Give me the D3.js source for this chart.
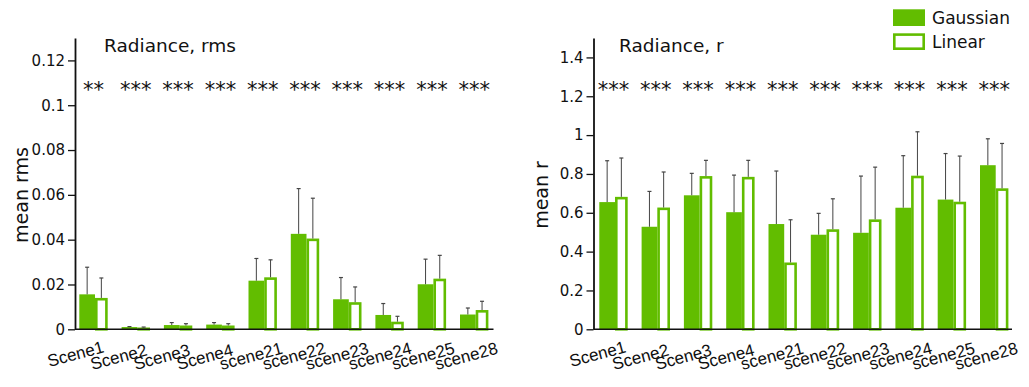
<!DOCTYPE html>
<html><head><meta charset="utf-8">
<script src="https://cdn.jsdelivr.net/npm/d3@7"></script>
<style>
html,body{margin:0;padding:0;background:#fff;}
svg{display:block;font-family:"DejaVu Sans",sans-serif;}
</style></head>
<body>
<svg id="c" width="1029" height="387"></svg>
<script>
// ---- data ----
const scenes = ["Scene1","Scene2","Scene3","Scene4","scene21","scene22","scene23","scene24","scene25","scene28"];
const seriesNames = ["Gaussian","Linear"];

const rmsGaussian     = [0.0156,0.0010,0.0019,0.0021,0.0217,0.0426,0.0134,0.0064,0.0201,0.0066];
const rmsGaussianErr  = [0.0277,0.0012,0.0030,0.0030,0.0316,0.0628,0.0231,0.0115,0.0313,0.0095];
const rmsLinear       = [0.0140,0.0008,0.0017,0.0017,0.0232,0.0405,0.0121,0.0034,0.0226,0.0086];
const rmsLinearErr    = [0.0229,0.0010,0.0025,0.0025,0.0310,0.0585,0.0189,0.0058,0.0330,0.0125];
const rmsSig = ["**","***","***","***","***","***","***","***","***","***"];
const rmsTicks = [0,0.02,0.04,0.06,0.08,0.1,0.12];
const rmsTickLabels = ["0","0.02","0.04","0.06","0.08","0.1","0.12"];

const rGaussian    = [0.655,0.528,0.690,0.603,0.542,0.487,0.497,0.626,0.668,0.845];
const rGaussianErr = [0.868,0.710,0.803,0.794,0.815,0.597,0.789,0.894,0.905,0.981];
const rLinear      = [0.682,0.627,0.789,0.785,0.344,0.515,0.566,0.791,0.657,0.726];
const rLinearErr   = [0.882,0.810,0.870,0.870,0.564,0.672,0.835,1.017,0.892,0.957];
const rSig = ["***","***","***","***","***","***","***","***","***","***"];
const rTicks = [0,0.2,0.4,0.6,0.8,1,1.2,1.4];
const rTickLabels = ["0","0.2","0.4","0.6","0.8","1","1.2","1.4"];

// ---- style ----
const GREEN = "#62bd00";
const INK = "#111";
const svg = d3.select("#c");

function panel(o){
  const g = svg.append("g");
  const y = d3.scaleLinear().domain([0,o.ymax]).range([329.3,38]);
  const x = d3.scaleBand().domain(scenes).range([o.bx0,o.bx0+409.1]).paddingInner(0.3286).paddingOuter(0);
  const bw = x.bandwidth();
  const gw = bw*0.553;
  const lw = bw-gw;
  const sw = 2.6;

  g.selectAll(".gb").data(scenes).join("rect")
    .attr("x",d=>x(d)).attr("width",gw)
    .attr("y",(d,i)=>y(o.g[i])).attr("height",(d,i)=>y(0)-y(o.g[i]))
    .attr("fill",GREEN);
  g.selectAll(".lb").data(scenes).join("rect")
    .attr("x",d=>x(d)+gw+sw/2).attr("width",lw-sw)
    .attr("y",(d,i)=>y(o.l[i])+sw/2).attr("height",(d,i)=>Math.max(0,y(0)-y(o.l[i])-sw/2))
    .attr("fill","#fff").attr("stroke",GREEN).attr("stroke-width",sw);

  function err(vals,errs,cx){
    g.selectAll(null).data(scenes).join("line")
      .attr("x1",(d)=>cx(d)).attr("x2",(d)=>cx(d))
      .attr("y1",(d,i)=>y(vals[i])).attr("y2",(d,i)=>y(errs[i]))
      .attr("stroke","#444").attr("stroke-width",1);
    g.selectAll(null).data(scenes).join("line")
      .attr("x1",(d)=>cx(d)-2).attr("x2",(d)=>cx(d)+2)
      .attr("y1",(d,i)=>y(errs[i])).attr("y2",(d,i)=>y(errs[i]))
      .attr("stroke","#444").attr("stroke-width",1.2);
  }
  err(o.g,o.ge,d=>x(d)+gw/2);
  err(o.l,o.le,d=>x(d)+gw+lw/2);

  const ya = d3.axisLeft(y).tickValues(o.ticks).tickFormat((d,i)=>o.tickLabels[i]).tickSize(7).tickPadding(3).tickSizeOuter(0);
  const yg = g.append("g").attr("transform",`translate(${o.ax},0)`).call(ya);
  yg.select(".domain").attr("stroke",INK).attr("stroke-width",1.8);
  yg.selectAll(".tick line").attr("stroke",INK).attr("stroke-width",1.3);
  yg.selectAll(".tick text").attr("fill",INK).style("font-size","15px").style("font-family","DejaVu Sans");

  g.append("line").attr("x1",o.ax).attr("x2",o.ax+418.5).attr("y1",y(0)).attr("y2",y(0))
    .attr("stroke",INK).attr("stroke-width",1.6);

  const lx = d3.scalePoint().domain(scenes).range([x(scenes[0])+o.lOff0, x(scenes[9])+o.lOff1]);
  g.selectAll(".xl").data(scenes).join("text")
    .attr("transform",(d,i)=>`translate(${lx(d)},${i===0?367:370}) rotate(-15)`)
    .attr("text-anchor","start").attr("fill",INK)
    .style("font-family","'Liberation Sans',Arial,sans-serif").style("font-size","17px")
    .text(d=>d);

  g.selectAll(".st").data(scenes).join("text")
    .attr("x",d=>x(d)+bw/2).attr("y",y(o.starLevel))
    .attr("text-anchor","middle").attr("fill",INK).style("font-size","21px")
    .text((d,i)=>o.sig[i]);

  g.append("text").attr("x",o.tx).attr("y",52).attr("fill",INK).style("font-size","18.5px").text(o.title);
  g.append("text").attr("transform",`translate(${o.ylx},195) rotate(-90)`).attr("text-anchor","middle")
    .attr("fill",INK).style("font-size","19px").text(o.ylabel);
}

panel({ymax:0.13, ax:75, bx0:79.3, g:rmsGaussian, ge:rmsGaussianErr, l:rmsLinear, le:rmsLinearErr,
  ticks:rmsTicks, tickLabels:rmsTickLabels, sig:rmsSig, starLevel:0.1038, title:"Radiance, rms", tx:104,
  ylabel:"mean rms", ylx:28, lOff0:-30, lOff1:-23.3});
panel({ymax:1.5, ax:593.5, bx0:599.3, g:rGaussian, ge:rGaussianErr, l:rLinear, le:rLinearErr,
  ticks:rTicks, tickLabels:rTickLabels, sig:rSig, starLevel:1.194, title:"Radiance, r", tx:619,
  ylabel:"mean r", ylx:548, lOff0:-28, lOff1:-23.3});

const leg = svg.append("g");
leg.selectAll("rect").data(seriesNames).join("rect")
  .attr("x",(d,i)=>i===0?893:894.3).attr("y",(d,i)=>i===0?9.3:34.6)
  .attr("width",(d,i)=>i===0?32:29.4).attr("height",(d,i)=>i===0?16.7:14.1)
  .attr("fill",(d,i)=>i===0?GREEN:"#fff").attr("stroke",(d,i)=>i===0?"none":GREEN).attr("stroke-width",2.6);
leg.selectAll("text").data(seriesNames).join("text")
  .attr("x",932).attr("y",(d,i)=>i===0?23.5:47.8).attr("fill",INK).style("font-size","17px").text(d=>d);
</script>
</body></html>
